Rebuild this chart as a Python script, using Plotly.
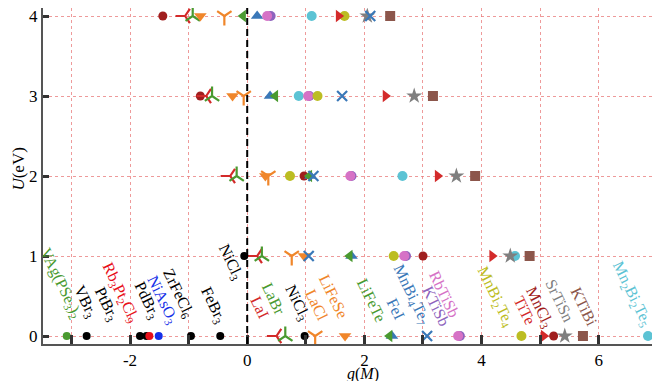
import plotly.graph_objects as go

# ---------------- data ----------------
U_levels = [0, 1, 2, 3, 4]

# materials computed at U = 0,1,2,3,4 : g(M) values
LaI      = [0.50, 0.17, -0.29, -0.70, -1.06]
LaBr     = [0.65, 0.25, -0.18, -0.60, -0.93]
LaCl     = [1.16, 0.76, 0.36, -0.06, -0.39]
LiFeSe   = [1.67, 0.97, 0.31, -0.25, -0.80]
LiFeTe   = [2.43, 1.75, 1.06, 0.48, -0.07]
FeI      = [2.47, 1.78, 1.08, 0.39, 0.17]
MnBi4Te7 = [3.07, 1.05, 1.13, 1.62, 2.10]
RbTiSb   = [3.60, 2.68, 1.76, 1.04, 0.34]
KTiSb    = [3.63, 2.71, 1.78, 1.06, 0.40]
MnBi2Te4 = [4.68, 2.50, 0.73, 1.20, 1.66]
TiTe     = [5.06, 4.18, 3.25, 2.36, 1.56]
MnCl3    = [5.23, 3.00, 0.97, -0.80, -1.44]
SrTiSn   = [5.42, 4.49, 3.57, 2.85, 2.05]
KTiBi    = [5.73, 4.82, 3.89, 3.17, 2.44]
Mn2Bi2Te5 = [6.84, 4.57, 2.65, 0.88, 1.10]

# NiCl3 at U = 0 and U = 1
NiCl3_U = [0, 1]
NiCl3   = [0.98, -0.05]

# materials only at U = 0
single_names = ["VAg(PSe3)2", "VBr3", "PtBr3", "PdBr3", "Rb3Pt2Cl9", "NiAsO3", "ZrFeCl6", "FeBr3"]
single_g     = [-3.08, -2.74, -1.83, -1.72, -1.67, -1.51, -0.96, -0.46]

x_tickvals = [-3, -2, -1, 0, 1, 2, 3, 4, 5, 6, 7]
x_ticktext = ["", "-2", "", "0", "", "2", "", "4", "", "6", ""]
y_tickvals = [0, 1, 2, 3, 4]

# ---------------- styles ----------------
C_BLUE = "#3a78b8"
C_ORANGE = "#f0862a"
C_GREEN = "#4a9a30"
C_RED = "#d32a2a"
C_PURPLE = "#8e63bd"
C_BROWN = "#8c564b"
C_PINK = "#d672c6"
C_GRAY = "#7f7f7f"
C_OLIVE = "#bcbd22"
C_CYAN = "#5cc3d4"
C_DARKRED = "#a01e1e"

FONT = "Liberation Serif"

series = [
    ("MnCl3", MnCl3, "circle", C_DARKRED, 9, False),
    ("LaI", LaI, "y-left", C_RED, 12, True),
    ("LaBr", LaBr, "y-up", C_GREEN, 12, True),
    ("LaCl", LaCl, "y-down", C_ORANGE, 12, True),
    ("LiFeSe", LiFeSe, "triangle-down", C_ORANGE, 11, False),
    ("FeI", FeI, "triangle-up", C_BLUE, 11, False),
    ("LiFeTe", LiFeTe, "triangle-left", C_GREEN, 11, False),
    ("Mn2Bi2Te5", Mn2Bi2Te5, "circle", C_CYAN, 10, False),
    ("KTiSb", KTiSb, "circle", C_PURPLE, 10, False),
    ("RbTiSb", RbTiSb, "circle", C_PINK, 10, False),
    ("MnBi2Te4", MnBi2Te4, "circle", C_OLIVE, 10, False),
    ("TiTe", TiTe, "triangle-right", C_RED, 11, False),
    ("SrTiSn", SrTiSn, "star", C_GRAY, 12, False),
    ("MnBi4Te7", MnBi4Te7, "x-thin", C_BLUE, 10, True),
    ("KTiBi", KTiBi, "square", C_BROWN, 10, False),
]

single_colors = ["#4a9a30", "black", "black", "black", "#e8101a", "#1530e8", "black", "black"]

fig = go.Figure()

for name, vals, sym, col, size, is_line in series:
    if is_line:
        marker = dict(symbol=sym, size=size, color=col, line=dict(width=2.2, color=col))
    else:
        marker = dict(symbol=sym, size=size, color=col, line=dict(width=0))
    fig.add_trace(go.Scatter(x=vals, y=U_levels, mode="markers", marker=marker,
                             name=name, showlegend=False, cliponaxis=False))

fig.add_trace(go.Scatter(x=NiCl3, y=NiCl3_U, mode="markers",
                         marker=dict(symbol="circle", size=8, color="black"),
                         showlegend=False, cliponaxis=False))

fig.add_trace(go.Scatter(x=single_g, y=[0] * len(single_g), mode="markers",
                         marker=dict(symbol="circle", size=8, color=single_colors),
                         showlegend=False, cliponaxis=False))

# ---------------- labels (rotated) ----------------
labels = [
    ("VAg(PSe<sub>3</sub>)<sub>2</sub>", -3.18, 0.66, C_GREEN),
    ("VBr<sub>3</sub>", -2.76, 0.42, "black"),
    ("PtBr<sub>3</sub>", -2.40, 0.40, "black"),
    ("Rb<sub>3</sub>Pt<sub>2</sub>Cl<sub>9</sub>", -2.17, 0.54, "#e8101a"),
    ("PdBr<sub>3</sub>", -1.71, 0.45, "black"),
    ("NiAsO<sub>3</sub>", -1.44, 0.45, "#1530e8"),
    ("ZrFeCl<sub>6</sub>", -1.18, 0.53, "black"),
    ("FeBr<sub>3</sub>", -0.58, 0.38, "black"),
    ("NiCl<sub>3</sub>", -0.28, 0.92, "black"),
    ("LaI", 0.22, 0.36, C_RED),
    ("LaBr", 0.46, 0.46, C_GREEN),
    ("NiCl<sub>3</sub>", 0.85, 0.42, "black"),
    ("LaCl", 1.19, 0.38, C_ORANGE),
    ("LiFeSe", 1.48, 0.50, C_ORANGE),
    ("LiFeTe", 2.13, 0.45, C_GREEN),
    ("FeI", 2.53, 0.34, C_BLUE),
    ("MnBi<sub>4</sub>Te<sub>7</sub>", 2.81, 0.51, C_BLUE),
    ("RbTiSb", 3.36, 0.53, C_PINK),
    ("KTiSb", 3.23, 0.37, C_PURPLE),
    ("MnBi<sub>2</sub>Te<sub>4</sub>", 4.23, 0.49, C_OLIVE),
    ("TiTe", 4.74, 0.32, C_RED),
    ("MnCl<sub>3</sub>", 4.99, 0.36, C_DARKRED),
    ("SrTiSn", 5.33, 0.44, C_GRAY),
    ("KTiBi", 5.75, 0.37, C_BROWN),
    ("Mn<sub>2</sub>Bi<sub>2</sub>Te<sub>5</sub>", 6.56, 0.53, C_CYAN),
]
for txt, lx, ly, col in labels:
    fig.add_annotation(x=lx, y=ly, xref="x", yref="y", text=txt, showarrow=False,
                       textangle=64, xanchor="center", yanchor="middle",
                       font=dict(family=FONT, size=16, color=col))

# axis titles
fig.add_annotation(x=0.5186, y=-0.09, xref="paper", yref="paper",
                   text="<i>g</i>(<i>M</i>)", showarrow=False,
                   xanchor="center", yanchor="middle",
                   font=dict(family=FONT, size=16, color="black"))
fig.add_annotation(x=-0.04, y=0.52, xref="paper", yref="paper",
                   text="<i>U</i>(eV)", showarrow=False, textangle=-90,
                   xanchor="center", yanchor="middle",
                   font=dict(family=FONT, size=17, color="black"))

# dashed vertical line at g = 0
fig.add_shape(type="line", x0=0, x1=0, y0=0, y1=1, xref="x", yref="paper",
              line=dict(color="black", width=2, dash="7px,4px"), layer="above")

grid_col = "rgba(232,120,120,0.75)"
fig.update_xaxes(range=[-3.485, 7.045], tickvals=x_tickvals, ticktext=x_ticktext,
                 ticks="inside", ticklen=9, tickwidth=2.5, tickcolor="#333",
                 showgrid=True, gridcolor=grid_col, griddash="dot", gridwidth=1,
                 zeroline=False, showline=True, linecolor="#555", linewidth=2, mirror=True,
                 automargin=False, ticklabeloverflow="allow",
                 tickfont=dict(family=FONT, size=17, color="black"))
fig.update_yaxes(range=[-0.1, 4.1], tickvals=y_tickvals,
                 ticks="inside", ticklen=6, tickwidth=2.5, tickcolor="#333",
                 showgrid=True, gridcolor=grid_col, griddash="dot", gridwidth=1,
                 zeroline=False, showline=True, linecolor="#555", linewidth=2,
                 automargin=False, ticklabeloverflow="allow",
                 tickfont=dict(family=FONT, size=17, color="black"))

# the page body adds an 8px offset, so the figure is sized/margined to compensate
fig.update_layout(width=652, height=373,
                  margin=dict(l=35, r=0, t=0, b=37, autoexpand=False),
                  plot_bgcolor="white", paper_bgcolor="white", showlegend=False)

fig.write_html("out.html")
